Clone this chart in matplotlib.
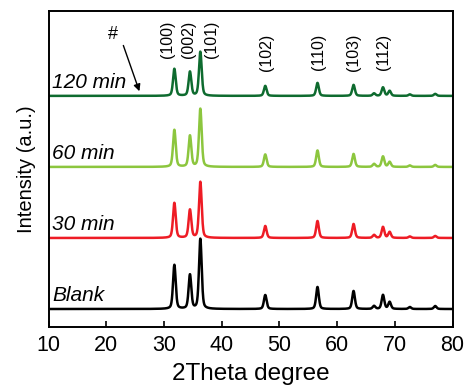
import numpy as np
import matplotlib
matplotlib.use("Agg")
import matplotlib.pyplot as plt

plt.rcParams['font.family'] = ['Liberation Sans', 'DejaVu Sans']

# Peak positions (2theta, degrees) and hkl labels
peak_pos = [31.8, 34.5, 36.3, 47.55, 56.6, 62.85, 66.4, 67.95, 69.1, 72.6, 77.0]
hkl_pos = [30.6, 34.2, 38.2, 47.7, 56.7, 62.9, 68.1]
hkl_labels = ['(100)', '(002)', '(101)', '(102)', '(110)', '(103)', '(112)']

samples = ['Blank', '30 min', '60 min', '120 min']
colors = ['#000000', '#ee1c25', '#8cc63e', '#0e6b2f']
offsets = [18, 89, 160, 231]

# Peak intensities (a.u.) per sample, same order as peak_pos
heights = {
    'Blank':   [44, 34, 70, 14, 22, 18, 3, 14, 7, 2, 3],
    '30 min':  [35, 28, 56, 12, 17, 14, 3, 11, 6, 1.5, 2],
    '60 min':  [37, 31, 58, 12.5, 16.5, 13, 3, 10.5, 5, 1.5, 2],
    '120 min': [27, 24, 44, 10, 13, 11, 2.5, 8.5, 5, 1.5, 2],
}
fwhm = 0.55
eta = 0.4

x = np.linspace(10, 80, 3500)

def profile(hs):
    y = np.zeros_like(x)
    for p, h in zip(peak_pos, hs):
        d = (x - p) / (fwhm / 2)
        g = np.exp(-np.log(2) * d ** 2)
        l = 1 / (1 + d ** 2)
        y += h * (eta * l + (1 - eta) * g)
    return y

fig = plt.figure(figsize=(4.67, 3.87), dpi=100)
ax = fig.add_axes([0.104, 0.155, 0.865, 0.817])

for s, c, off in zip(samples, colors, offsets):
    ax.plot(x, profile(heights[s]) + off, color=c, lw=1.8)
    ax.text(10.6, off + 13, s, fontsize=15, style='italic', va='center', ha='left')

for p, lab in zip(hkl_pos, hkl_labels):
    top = 306 if p < 40 else 293
    ax.text(p, top, lab, rotation=90, fontsize=11.5, ha='center', va='top')

ax.text(21.1, 292, '#', fontsize=13, ha='center', va='center')
ax.annotate('', xy=(25.9, 233), xytext=(22.8, 284),
            arrowprops=dict(arrowstyle='-|>', color='black', lw=1.0, mutation_scale=10))

ax.set_xlim(10, 80)
ax.set_ylim(0, 316)
ax.set_yticks([])
ax.set_xticks(np.arange(10, 81, 10))
ax.tick_params(axis='x', direction='in', length=4, width=1.2, labelsize=15.5, pad=6)
for sp in ax.spines.values():
    sp.set_linewidth(1.4)
ax.set_xlabel('2Theta degree', fontsize=17.5, labelpad=5)
ax.set_ylabel('Intensity (a.u.)', fontsize=14.5, labelpad=9)

fig.savefig('out.png', dpi=100)
